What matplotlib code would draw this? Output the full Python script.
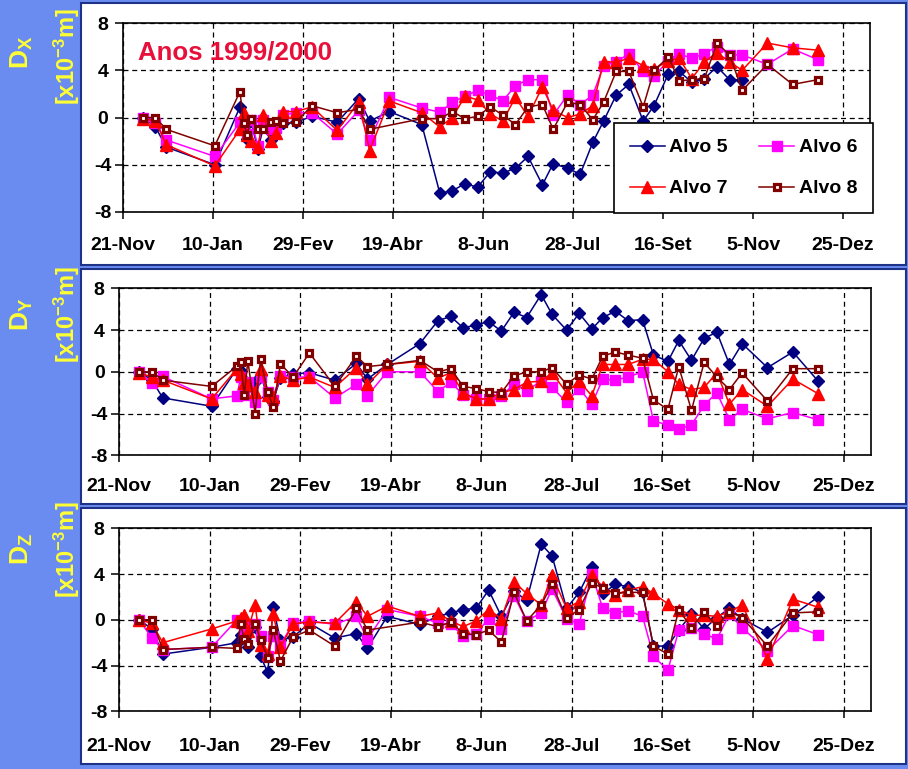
import matplotlib
matplotlib.use('Agg')
import matplotlib.pyplot as plt
import numpy as np
from matplotlib.patches import Rectangle
from matplotlib.lines import Line2D

plt.rcParams['font.family'] = ['Liberation Sans', 'DejaVu Sans']
plt.rcParams['font.weight'] = 'bold'
plt.rcParams['mathtext.fontset'] = 'custom'
plt.rcParams['mathtext.rm'] = 'Liberation Sans:bold'
plt.rcParams['mathtext.it'] = 'Liberation Sans:bold'
plt.rcParams['mathtext.bf'] = 'Liberation Sans:bold'

# ---------------- data (days since 21-Nov-1999) ----------------
dias = [11, 18, 24, 51, 65, 67, 69, 71, 75, 78, 82, 85, 89, 96, 105, 119, 131, 137, 148, 166,
        176, 183, 190, 197, 204, 211, 218, 225, 233, 239, 247, 254, 261, 267, 274, 281, 289, 295,
        303, 309, 316, 323, 330, 337, 344, 358, 372, 386]

tick_dias = [0, 50, 100, 150, 200, 250, 300, 350, 400]
tick_labels = ['21-Nov', '10-Jan', '29-Fev', '19-Abr', '8-Jun', '28-Jul', '16-Set', '5-Nov', '25-Dez']
y_ticks = [-8, -4, 0, 4, 8]

series_names = ['Alvo 5', 'Alvo 6', 'Alvo 7', 'Alvo 8']

dx_alvo5 = [0, -0.8, -2.5, -4.0, 0.9, -0.8, -1.8, -0.3, -2.7, -0.8, -1.9, -0.6, -0.5, -0.4, 0.1, -0.4,
            1.6, -0.3, 0.5, -0.6, -6.4, -6.2, -5.6, -5.9, -4.6, -4.7, -4.3, -3.3, -5.7, -3.9, -4.3,
            -4.8, -2.1, -0.3, 1.9, 2.8, -0.3, 1.0, 3.7, 3.9, 3.0, 3.3, 4.3, 3.2, 3.2, None, None, None]
dx_alvo6 = [0, -0.5, -1.9, -3.3, -0.4, -0.6, -1.4, -0.2, -2.4, -0.2, -1.0, -0.9, 0.2, 0.4, 0.4, -1.4,
            0.6, -1.9, 1.7, 0.8, 0.45, 1.3, 1.8, 2.3, 1.9, 1.4, 2.7, 3.2, 3.2, 0.2, 1.9, 1.1, 1.9,
            4.4, 4.7, 5.4, 3.9, 3.5, 4.8, 5.4, 5.0, 5.4, 6.0, 5.3, 5.3, 4.5, 5.8, 4.9]
dx_alvo7 = [-0.1, -0.3, -2.3, -4.1, -1.0, 0.35, -1.5, -2.0, -2.5, 0.2, -2.0, -1.3, 0.5, 0.5, 0.9, -1.1,
            1.3, -2.8, 1.4, 0.4, -0.8, 0.0, 1.8, 1.5, 0.3, -0.3, 1.7, 0.1, 2.6, 0.6, 0.0, 0.3, 1.0,
            4.7, 4.7, 5.0, 4.4, 4.1, 4.8, 5.0, 3.3, 4.7, 5.5, 4.7, 4.0, 6.3, 5.9, 5.7]
dx_alvo8 = [0, 0, -1.0, -2.4, 2.2, -0.5, -1.5, -0.15, -1.0, -1.0, -0.4, -0.3, -0.5, -0.4, 1.0, 0.4,
            0.7, -1.0, None, -0.1, -0.1, 0.5, -0.1, 0.1, 0.9, 0.2, -0.6, 0.9, 1.1, -1.0, 1.3, 1.1,
            -0.2, 1.3, 3.9, 3.9, 0.9, 4.0, 5.1, 3.1, 3.2, 3.3, 6.3, 5.3, 2.3, 4.5, 2.8, 3.2]

dy_alvo5 = [0, -0.8, -2.5, -3.3, 0.3, 0.1, -0.8, -1.5, -1.0, -0.3, -2.4, -2.8, -0.6, -0.2, -0.1, -0.8,
            0.8, -0.7, 0.7, 2.7, 4.9, 5.3, 4.2, 4.5, 4.8, 3.9, 5.7, 5.2, 7.4, 5.5, 4.0, 5.6, 4.1,
            5.2, 5.8, 4.9, 5.0, 1.6, 1.0, 3.0, 1.1, 3.2, 3.8, 0.7, 2.7, 0.4, 1.9, -0.9]
dy_alvo6 = [0, -1.1, -0.45, -2.6, -2.3, -0.5, -2.2, -1.0, -2.9, -0.5, -1.9, -2.7, -0.4, -0.5, -0.5, -2.5,
            -1.2, -2.3, 0.0, 0.0, -1.9, -1.0, -2.2, -2.6, -2.6, -2.3, -1.2, -1.8, -0.9, -1.5, -2.9,
            -1.6, -3.1, -0.7, -0.8, -0.5, 0.0, -4.7, -5.1, -5.5, -5.1, -3.2, -2.0, -4.6, -3.6, -4.5,
            -3.9, -4.6]
dy_alvo7 = [-0.1, -0.5, -0.8, -2.6, 0.3, -0.2, -1.1, -1.3, -1.9, 0.3, -2.2, -2.4, -0.4, -0.8, -0.5, -1.5,
            0.4, -1.2, 0.7, 1.0, -0.6, -0.1, -2.0, -2.6, -2.6, -2.0, -1.7, -1.0, -0.9, -0.1, -2.0,
            -0.9, -2.3, 0.7, 0.7, 0.7, 1.2, 1.2, 0.0, -1.2, -1.7, -1.5, -0.1, -3.1, -1.7, -3.3, -0.7,
            -2.1]
dy_alvo8 = [0, 0, -0.8, -1.4, 0.55, 0.9, -2.2, 1.06, -4.0, 1.2, -1.9, -3.4, 0.75, -0.5, 1.8, -1.4,
            1.5, 0.5, 0.7, 1.1, 0.0, 0.3, -1.4, -1.6, -1.9, -2.0, -0.4, 0.0, 0.0, 0.4, -1.2, -0.3,
            -0.7, 1.5, 1.9, 1.6, 1.3, -2.7, -3.6, 0.5, -3.7, 0.9, -0.5, -1.7, -0.1, -2.8, 0.3, 0.3]

dz_alvo5 = [0, -0.8, -3.0, -2.4, -2.0, -1.3, -1.6, -2.4, -0.6, -3.2, -4.6, 1.1, -1.8, -1.5, -0.3, -1.6,
            -1.2, -2.5, 0.3, -0.4, 0.3, 0.6, 0.9, 1.0, 2.6, 0.3, 2.5, 1.7, 6.6, 5.6, 1.0, 2.4, 4.6,
            2.3, 3.1, 2.9, 2.4, -2.3, -2.3, -0.9, 0.5, -0.8, 0.2, 1.0, 0.1, -1.1, 0.4, 2.0]
dz_alvo6 = [0, -1.6, -2.6, -2.4, 0.0, -0.3, -0.9, -0.5, -0.4, -1.4, -3.2, -1.4, -2.2, -0.3, -0.1, -0.4,
            0.3, -1.7, 0.9, 0.3, -0.3, -0.4, -1.4, -1.2, 0.1, -0.8, 2.1, -0.1, 0.6, 2.7, 0.1, -0.35,
            4.0, 1.0, 0.6, 0.8, 0.3, -3.2, -4.4, -0.9, -0.7, -1.2, -1.7, 0.5, -0.7, -2.7, -0.5, -1.3]
dz_alvo7 = [0, -0.3, -2.0, -0.8, -0.1, 0.2, 0.4, -1.0, 1.3, -2.2, -3.0, 0.5, -2.4, -0.35, -0.2, -0.3,
            1.6, 0.3, 1.2, 0.3, 0.6, -0.1, -0.6, -0.1, 0.9, 0.1, 3.3, 2.3, 1.3, 3.9, 1.0, 1.6, 3.9,
            2.9, 2.2, 2.6, 2.9, 2.3, 1.4, 0.9, 0.4, 0.4, 0.3, 0.7, 1.3, -3.4, 1.8, 1.1]
dz_alvo8 = [0, 0, -2.6, -2.4, -2.5, -0.4, -1.7, -2.1, -0.35, -1.8, -3.3, -0.9, -3.6, -1.5, -0.9, -2.3,
            1.0, -0.9, None, -0.2, -0.6, -0.2, -1.2, -1.3, -0.9, -1.95, 2.4, -0.1, 1.3, 3.1, 0.15,
            0.9, 3.2, 2.8, 2.3, 2.4, 2.4, -2.3, -3.0, 0.9, -0.7, 0.7, -0.55, 0.7, 0.2, -2.3, 0.6, 0.7]

# ---------------- styles ----------------
BG = '#6A8CF0'
YELLOW = '#FFFF33'
styles = [
    dict(color='#000080', marker='D', markersize=6, markerfacecolor='#000080', markeredgecolor='#000080'),
    dict(color='#FF00FF', marker='s', markersize=7.5, markerfacecolor='#FF00FF', markeredgecolor='#FF00FF'),
    dict(color='#FF0000', marker='^', markersize=8.5, markerfacecolor='#FF0000', markeredgecolor='#FF0000'),
    dict(color='#800000', marker='s', markersize=5, markerfacecolor='white', markeredgecolor='#800000',
         markeredgewidth=2.3),
]

W, H = 908, 769
fig = plt.figure(figsize=(W / 100, H / 100), dpi=100)
fig.patch.set_facecolor(BG)


def fx(px):
    return px / W


def fy(py):
    return 1 - py / H


for top, bot in [(3, 265), (269, 504), (508, 764)]:
    fig.patches.append(Rectangle((fx(81), fy(bot)), fx(906) - fx(81), fy(top) - fy(bot),
                                 transform=fig.transFigure, facecolor='white',
                                 edgecolor='#1E3288', lw=1.5, zorder=-10))

panels = [
    ((123, 870, 23, 212), [dx_alvo5, dx_alvo6, dx_alvo7, dx_alvo8], 'X', 52, 57, 13),
    ((119.3, 870.7, 288.3, 455.3), [dy_alvo5, dy_alvo6, dy_alvo7, dy_alvo8], 'Y', 314, 315, 11),
    ((119.3, 870.7, 528.3, 711.3), [dz_alvo5, dz_alvo6, dz_alvo7, dz_alvo8], 'Z', 549, 550, 14),
]

x = np.array(dias, dtype=float)
axes = []
for (l, r, t, b), data, comp, ylab_d, ylab_u, xpad in panels:
    ax = fig.add_axes([fx(l), fy(b), fx(r) - fx(l), fy(t) - fy(b)])
    ax.set_zorder(5)
    ax.set_facecolor('white')
    for vals, st in zip(data, styles):
        y = np.array([np.nan if v is None else v for v in vals], dtype=float)
        m = ~np.isnan(y)
        ax.plot(x[m], y[m], lw=1.1, **st)
    ax.set_xlim(0, 415)
    ax.set_ylim(-8, 8)
    ax.set_xticks(tick_dias)
    ax.set_xticklabels(tick_labels)
    ax.set_yticks(y_ticks)
    ax.set_yticklabels([str(v) for v in y_ticks])
    ax.grid(True, color='black', linestyle=(0, (4, 3)), linewidth=0.9)
    ax.set_axisbelow(True)
    for s in ax.spines.values():
        s.set_color('black')
        s.set_linewidth(1.2)
    ax.tick_params(axis='x', direction='out', length=5, width=1.1, pad=xpad, labelsize=14)
    ax.tick_params(axis='y', direction='out', length=6, width=1.1, pad=8.5, labelsize=14)
    for lbl in ax.get_yticklabels():
        lbl.set_horizontalalignment('center')
    fig.text(fx(22), fy(ylab_d), r'D$_{\mathregular{' + comp + '}}$', rotation=90, color=YELLOW,
             fontsize=19, ha='center', va='center')
    fig.text(fx(67), fy(ylab_u), r'[x10$^{\mathregular{-3}}$m]', rotation=90, color=YELLOW,
             fontsize=17, ha='center', va='center')
    axes.append(ax)

fig.text(fx(138), fy(53), 'Anos 1999/2000', color='#E8103A', fontsize=18.6, ha='left', va='center',
         zorder=10)

handles = [Line2D([], [], lw=1.1, **st) for st in styles]
order = [0, 2, 1, 3]
leg = axes[0].legend([handles[i] for i in order], [series_names[i] for i in order], ncol=2,
                     loc='lower right', bbox_to_anchor=(1.004, -0.005), frameon=True, fancybox=False,
                     edgecolor='black', framealpha=1, fontsize=14, handlelength=1.8,
                     handletextpad=0.25, columnspacing=1.6, labelspacing=1.2, borderpad=0.8,
                     borderaxespad=0)
leg.get_frame().set_linewidth(1.2)

fig.savefig('out.png', dpi=100, facecolor=BG)
